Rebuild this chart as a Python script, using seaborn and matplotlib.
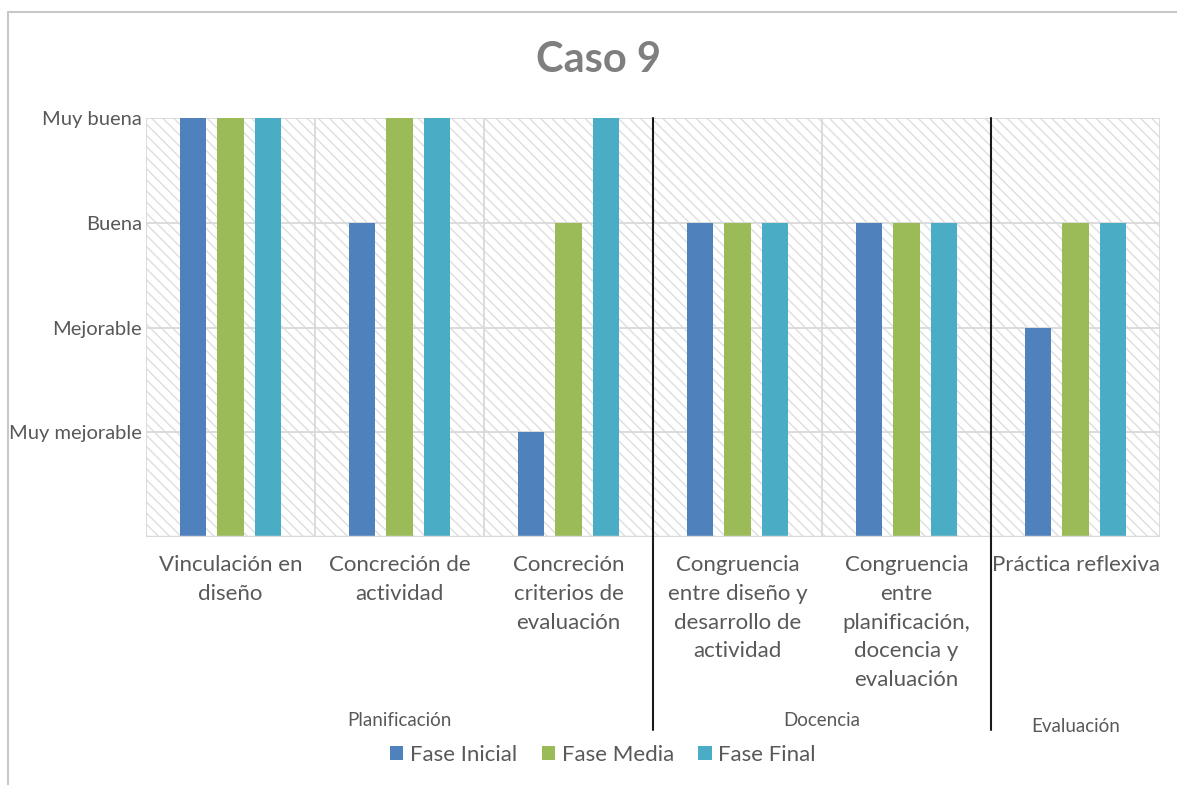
import matplotlib
matplotlib.use("Agg")
import matplotlib.pyplot as plt
import matplotlib.transforms as mtransforms
from matplotlib.patches import Rectangle
from matplotlib.lines import Line2D
import pandas as pd
import seaborn as sns

# --- data -------------------------------------------------------------
categories = [
    "Vinculación en diseño",
    "Concreción de actividad",
    "Concreción criterios de evaluación",
    "Congruencia entre diseño y desarrollo de actividad",
    "Congruencia entre planificación, docencia y evaluación",
    "Práctica reflexiva",
]
tick_labels = [
    "Vinculación en\ndiseño",
    "Concreción de\nactividad",
    "Concreción\ncriterios de\nevaluación",
    "Congruencia\nentre diseño y\ndesarrollo de\nactividad",
    "Congruencia\nentre\nplanificación,\ndocencia y\nevaluación",
    "Práctica reflexiva",
]
series = ["Fase Inicial", "Fase Media", "Fase Final"]
fase_inicial = [4, 3, 1, 3, 3, 2]
fase_media = [4, 4, 3, 3, 3, 3]
fase_final = [4, 4, 4, 3, 3, 3]
level_labels = ["Muy mejorable", "Mejorable", "Buena", "Muy buena"]
level_values = [1, 2, 3, 4]
groups = ["Planificación", "Docencia", "Evaluación"]
group_sizes = [3, 2, 1]

colors = ["#4F81BD", "#9BBB59", "#4BACC6"]
text_color = "#595959"
grid_color = "#D9D9D9"

df = pd.DataFrame({
    "categoria": categories * 3,
    "fase": [s for s in series for _ in categories],
    "valor": fase_inicial + fase_media + fase_final,
})

sns.set_theme(style="white")
plt.rcParams["font.family"] = ["Lato", "DejaVu Sans"]

fig = plt.figure(figsize=(11.77, 7.85), dpi=100)
ax = fig.add_axes([146 / 1177, 1 - 537 / 785, (1160 - 146) / 1177, (537 - 118) / 785])

# hatched plot-area background
bg = Rectangle((0, 0), 1, 1, transform=ax.transAxes, facecolor="white",
               edgecolor="#DEDEDE", hatch="\\\\\\", linewidth=0, zorder=0)
ax.add_patch(bg)

sns.barplot(data=df, x="categoria", y="valor", hue="fase", order=categories,
            hue_order=series, palette=colors, width=0.666, gap=0.3,
            saturation=1, ax=ax, zorder=3, legend=False, linewidth=0)

n = len(categories)
ax.set_xlim(-0.5, n - 0.5)
ax.set_ylim(0, 4)

# gridlines: horizontal at levels, vertical at category boundaries
for v in level_values:
    ax.axhline(v, color=grid_color, lw=1.3, zorder=1)
for b in range(n + 1):
    ax.axvline(b - 0.5, color=grid_color, lw=1.3, zorder=1)
for s in ax.spines.values():
    s.set_visible(False)
ax.axhline(0, color=grid_color, lw=2.5, zorder=4)

ax.set_yticks(level_values)
ax.set_yticklabels(level_labels, fontsize=14.5, color=text_color)
ax.set_xticks(range(n))
ax.set_xticklabels(tick_labels, fontsize=16, color=text_color,
                   linespacing=1.55, va="top")
ax.tick_params(axis="both", length=0)
ax.tick_params(axis="x", pad=13)
ax.tick_params(axis="y", pad=3)
ax.set_xlabel("")
ax.set_ylabel("")

# group separators and group names below the category labels
trans = mtransforms.blended_transform_factory(ax.transData, ax.transAxes)
start = 0
group_y = [-0.437, -0.437, -0.453]
for i, (g, size) in enumerate(zip(groups, group_sizes)):
    center = start + (size - 1) / 2
    ax.text(center, group_y[i], g, transform=trans, ha="center", va="center",
            fontsize=13.5, color=text_color)
    if i > 0:
        ax.add_line(Line2D([start - 0.5, start - 0.5], [1.0, -0.461],
                           transform=trans, color="#1A1A1A", lw=1.5,
                           clip_on=False, zorder=5))
    start += size

# title
fig.text(598 / 1177, 1 - 60 / 785, "Caso 9", ha="center", va="center",
         fontsize=30, fontweight="bold", color="#7F7F7F")

# legend
handles = [Rectangle((0, 0), 1, 1, facecolor=c, edgecolor="none") for c in colors]
fig.legend(handles, series, loc="center", bbox_to_anchor=(603 / 1177, 1 - 755 / 785),
           ncol=3, frameon=False, fontsize=16, handlelength=0.6, handleheight=0.6,
           handletextpad=0.3, columnspacing=1.1, labelcolor=text_color)

# outer chart frame
fig.add_artist(Line2D([8 / 1177, 8 / 1177], [0, 1 - 12 / 785], transform=fig.transFigure,
                      color="#C8C8C8", lw=1.5))
fig.add_artist(Line2D([8 / 1177, 1], [1 - 12 / 785, 1 - 12 / 785], transform=fig.transFigure,
                      color="#C8C8C8", lw=1.5))

fig.savefig("out.png", dpi=100)
